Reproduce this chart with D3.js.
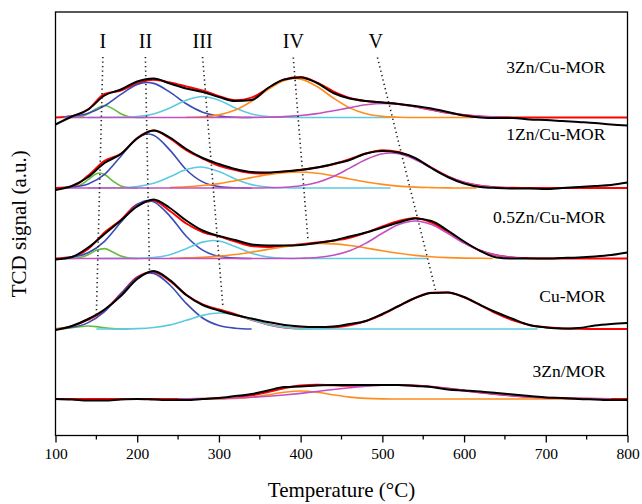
<!DOCTYPE html>
<html>
<head>
<meta charset="utf-8">
<script src="https://cdn.jsdelivr.net/npm/d3@7"></script>
<style>
  body { margin: 0; background: #fff; }
  text { font-family: "Liberation Serif", "Times New Roman", serif; fill: #000; }
</style>
</head>
<body>
<svg id="chart" width="642" height="504"></svg>
<script>
width = 642;
height = 504;

margin = {
    top: 12,
    right: 14.5,
    bottom: 68.5,
    left: 55.5
};

//////// Data ////////
// temperature grid of the measured / fitted profiles (°C)
const temps = [100,120,140,160,180,200,220,240,260,280,300,320,340,360,380,400,420,440,
               460,480,500,520,540,560,580,600,620,640,660,680,700,720,740,760,780,800];

// bottom to top
const sampleNames = ["3Zn/MOR", "Cu-MOR", "0.5Zn/Cu-MOR", "1Zn/Cu-MOR", "3Zn/Cu-MOR"];
const sampleOffsets = [36.5, 106.5, 177, 247.5, 318];
const sampleLabelLevels = [58.5, 133.5, 212.5, 295.5, 362.5];

// measured TCD signal (black) above each baseline
const signal3ZnMOR = [0,-0.5,-1.5,-1.5,-0.5,0,-0.5,-1,-1,0,1,3,5,8.5,12,12.5,13.5,14,14,14,
                      14,14,13,12,9.5,8.5,7.5,6,4.5,3,1.5,1,0,-0.5,-1,-1];
const signalCuMOR = [-1,3,10,19.5,33,50,58,49,34,24,18.5,14,10.5,7,4,2.5,2,2.5,5,8,
                     15,23,31,36,36.5,32,24,16.5,10,4,1.5,0.5,1,3.5,5,6];
const signal05ZnCuMOR = [-1,1.5,11,24.5,38,52,59,50.5,38,28,22.5,18.5,14,13,13,13.5,15.5,18,22,26,
                         31,36,40,37.5,28,17,7.5,1,0,0,0,0.5,1,2,3.5,6];
const signal1ZnCuMOR = [-2,2,11,25,34,49.5,57.5,50.5,39,30,24,19,16,15.5,16.5,18,20.5,24,28,34.5,
                        37,35.5,30,20,11,4.5,1,0,-0.5,-0.5,-1,0,1,2,3,5.5];
const signal3ZnCuMOR = [-7,1,8,22,28,36,39,34,29,25.5,20.5,16.5,17.5,29.5,38,40,34.5,24.5,19,16.5,
                        15,13.5,11.5,9,5.5,2,0,-0.5,-0.5,-2,-2.5,-3.5,-4.5,-5.5,-7,-8];

// cumulative fit (red)
const fit3ZnMOR = [0,0,0,0,0,0,0,0,0.1,0.3,0.7,1.6,3.6,6.9,10.8,13.6,14.3,13.7,13.2,13.5,
                   13.9,14,13.4,12.2,10.5,8.5,6.5,4.8,3.3,2.1,1.3,0.8,0.4,0.2,0.1,0];
const fitCuMOR = [0,2.9,9.4,18.6,35.2,51.8,57,48.1,34.3,24.6,19.5,14.8,9.2,4.5,1.6,0.6,0.7,1.5,3.8,8,
                  14.5,22.9,31,36.2,36.5,31.6,23.8,15.3,8.6,4.1,1.7,0.6,0.2,0,0,0];
const fit05ZnCuMOR = [0,1.5,9.5,26,38.6,54,57.7,47.5,35,26.5,22.1,17,12.5,11.5,12.5,14.2,16,17.8,20.7,25.9,
                      32,37.5,40.6,36,26.5,16,7.9,3.2,1,0.3,0,0,0,0,0,0];
const fit1ZnCuMOR = [0,1.3,12.4,27.1,34.1,50,57.4,49.6,37.9,29.5,22.2,18,15,14.5,16.4,18.3,20.4,23.7,28.9,34.5,
                     37.8,36.1,29.4,20.3,11.6,5.6,2.3,0.8,0.2,0,0,0,0,0,0,0];
const fit3ZnCuMOR = [0,1.2,8.2,23.6,27,34,37.7,35,31.1,27,21.4,17.3,19.9,29,38,40.4,34.9,26.2,19.5,16.4,
                     15.1,13.6,10.9,7.7,4.7,2.5,1.1,0.4,0.1,0,0,0,0,0,0,0];

// deconvoluted peaks, [temperature, signal]
const peaks3ZnMOR_IV = [[270,0],[300,0.1],[320,0.6],[340,1.9],[360,4.2],[380,6.8],[400,8],[420,6.8],[440,4.2],
                        [460,1.9],[480,0.6],[500,0.1],[520,0],[740,0]];
const peaks3ZnMOR_V = [[250,0],[260,0.2],[280,0.3],[300,0.6],[320,1],[340,1.7],[360,2.7],[380,4],[400,5.6],
                       [420,7.5],[440,9.5],[460,11.3],[480,12.9],[500,13.8],[520,14],[540,13.4],[560,12.2],
                       [580,10.5],[600,8.5],[620,6.5],[640,4.8],[660,3.3],[680,2.1],[700,1.3],[720,0.8],
                       [740,0.4],[760,0.2],[780,0]];

const peaksCuMOR_I = [[100,0],[110,0.4],[120,1.2],[130,2.4],[140,3],[150,2.4],[160,1.2],[170,0.4],[180,0.1],[190,0]];
const peaksCuMOR_II = [[110,0.8],[120,1.7],[140,6.4],[160,17.4],[180,35],[200,51.4],[215,56],[220,55.6],
                       [240,44],[260,25.6],[280,11],[300,3.5],[320,0.8],[340,0]];
const peaksCuMOR_III = [[150,0],[180,0.1],[200,0.4],[220,1.5],[240,4.1],[260,8.7],[280,13.6],[301,16],
                        [320,14],[340,9.2],[360,4.5],[380,1.6],[400,0.4],[420,0.1],[440,0],[690,0]];

const peaks05_I = [[110,0],[120,0.1],[130,1],[140,3.8],[150,8.3],[160,9.9],[170,6.5],[180,2.4],[190,0.5],[200,0]];
const peaks05_II = [[110,0.6],[120,1.4],[140,5.7],[160,17.2],[180,36.2],[200,53.9],[213,58],[220,56.8],
                    [240,42.4],[260,22.3],[280,8.4],[300,2.2],[320,0.4],[340,0]];
const peaks05_III = [[150,0],[200,0.1],[220,0.9],[240,3.8],[260,9.8],[280,16.4],[293,18],[300,17.5],
                     [320,12],[340,5.3],[360,1.5],[380,0.3],[400,0],[555,0]];
const peaks05_IV = [[240,0.2],[260,0.6],[280,1.2],[300,2.4],[320,4],[340,6.4],[360,9.1],[380,11.8],[400,13.9],
                    [425,15],[440,14.6],[460,13],[480,10.5],[500,7.7],[520,5.2],[540,3.1],[560,1.7],[580,0.9],
                    [600,0.4],[620,0.2],[635,0]];
const peaks05_V = [[110,0],[380,0],[400,0.3],[420,1],[440,3.2],[460,7.7],[480,15.4],[500,25.2],[520,33.9],
                   [540,37.5],[560,33.9],[580,25.2],[600,15.4],[620,7.7],[640,3.2],[660,1],[670,0.5]];

const peaks1_I = [[110,0],[120,0.5],[130,2.7],[140,8.4],[150,14.3],[154,15],[160,13.5],[170,7.1],[180,2],[190,0.3],[200,0]];
const peaks1_II = [[110,0.3],[120,0.8],[140,4],[160,13.6],[180,31.8],[200,49.7],[213,54],[220,52.7],
                   [240,37.9],[260,18.3],[280,6.1],[300,1.35],[320,0.2],[340,0]];
const peaks1_III = [[140,0],[180,0.3],[200,1.4],[220,4.7],[240,11.2],[260,18.4],[277,21],[300,16.4],
                    [320,9],[340,3.4],[360,0.9],[380,0.2],[400,0],[510,0]];
const peaks1_IV = [[240,0.5],[260,1.2],[280,2.5],[300,4.4],[320,7.2],[340,10.4],[360,13.4],[380,15.4],[396,16],
                   [420,14.8],[440,12.2],[460,9],[480,6],[500,3.6],[520,1.9],[540,0.9],[560,0.4],[580,0.1],
                   [600,0],[615,0]];
const peaks1_V = [[110,0],[340,0],[360,0.2],[380,0.8],[400,2.3],[420,5.6],[440,11.5],[460,19.9],[480,28.5],
                  [500,34.2],[510,35],[520,34.2],[540,28.5],[560,19.9],[580,11.5],[600,5.6],[620,2.3],
                  [640,0.8],[655,0.3]];

const peaks3_I = [[110,0],[120,0.1],[130,0.8],[140,3.7],[150,8.9],[160,12],[170,8.9],[180,3.7],[190,0.8],[200,0.1],[210,0]];
const peaks3_II = [[110,0.5],[120,1.1],[140,4.2],[160,11.6],[180,23.1],[200,33],[212,35],[220,34.1],
                   [240,25.4],[260,13.7],[280,5.3],[300,1.5],[320,0.3],[340,0]];
const peaks3_III = [[140,0],[180,0.2],[200,0.9],[220,3.6],[240,9.6],[260,17.3],[280,21],[300,17.3],
                    [320,9.6],[340,3.6],[360,0.9],[380,0.2],[400,0],[510,0]];
const peaks3_IV = [[260,0.2],[280,0.7],[300,2.6],[320,7.4],[340,16.2],[360,27.8],[380,37],[393,39],[400,38.4],
                   [420,31],[440,19.5],[460,9.6],[480,3.7],[500,1.1],[520,0.3],[540,0],[612,0]];
const peaks3_V = [[110,0],[300,0],[340,0.1],[360,0.3],[380,0.85],[400,2],[420,3.9],[440,6.7],[460,9.9],
                  [480,12.7],[500,14],[520,13.3],[540,10.9],[560,7.7],[580,4.7],[600,2.5],[620,1.1],
                  [640,0.4],[650,0.2]];

// peak guides (dotted) and their roman labels
const bandNames = ["I", "II", "III", "IV", "V"];
const bandColors = ["#68bb3e", "#3a4cb6", "#5ecae2", "#ff8c1c", "#c250c0"];
const bandLabelTemps = [158, 210, 280, 391, 492];
const bandLabelLevel = 387.5;
const guideTop = [[158,378.5],[210,378.5],[280,378.5],[391,378],[494,378]];
const guideBottom = [[150,120.5],[215,165.5],[305,127.5],[409,195.5],[565,145.5]];

const xTicks = [100,200,300,400,500,600,700,800];
const xMinorTicks = [150,250,350,450,550,650,750];

// table used for drawing
const signals = [signal3ZnMOR, signalCuMOR, signal05ZnCuMOR, signal1ZnCuMOR, signal3ZnCuMOR];
const fits = [fit3ZnMOR, fitCuMOR, fit05ZnCuMOR, fit1ZnCuMOR, fit3ZnCuMOR];
const peakSets = [
    [["IV", peaks3ZnMOR_IV], ["V", peaks3ZnMOR_V]],
    [["I", peaksCuMOR_I], ["II", peaksCuMOR_II], ["III", peaksCuMOR_III]],
    [["I", peaks05_I], ["II", peaks05_II], ["III", peaks05_III], ["IV", peaks05_IV], ["V", peaks05_V]],
    [["I", peaks1_I], ["II", peaks1_II], ["III", peaks1_III], ["IV", peaks1_IV], ["V", peaks1_V]],
    [["I", peaks3_I], ["II", peaks3_II], ["III", peaks3_III], ["IV", peaks3_IV], ["V", peaks3_V]]
];
const profiles = sampleNames.map((name, i) => ({
    name: name,
    offset: sampleOffsets[i],
    labelLevel: sampleLabelLevels[i],
    signal: temps.map((t, j) => [t, signals[i][j]]),
    fit: temps.map((t, j) => [t, fits[i][j]]),
    peaks: peakSets[i]
}));

//////// Scales ////////
const xScale = d3.scaleLinear()
    .domain([100, 800])
    .range([margin.left, width - margin.right]);

const yScale = d3.scaleLinear()
    .domain([0, height - margin.bottom - margin.top])
    .range([height - margin.bottom, margin.top]);

const colorScale = d3.scaleOrdinal()
    .domain(bandNames)
    .range(bandColors);

const svg = d3.select("#chart");

//////// Curves ////////
profiles.forEach(p => {
    const line = d3.line()
        .x(d => xScale(d[0]))
        .y(d => yScale(p.offset + d[1]))
        .curve(d3.curveMonotoneX);

    const g = svg.append("g").attr("class", "profile");

    g.append("path")
        .attr("d", line(p.fit))
        .attr("fill", "none")
        .attr("stroke", "#ff0000")
        .attr("stroke-width", 2);

    p.peaks.forEach(([band, pts]) => {
        g.append("path")
            .attr("d", line(pts))
            .attr("fill", "none")
            .attr("stroke", colorScale(band))
            .attr("stroke-width", 1.6);
    });

    g.append("path")
        .attr("d", line(p.signal))
        .attr("fill", "none")
        .attr("stroke", "#000")
        .attr("stroke-width", 2);

    g.append("text")
        .attr("x", xScale(773))
        .attr("y", yScale(p.labelLevel))
        .attr("text-anchor", "end")
        .style("font-size", "17.5px")
        .text(p.name);
});

//////// Peak guides ////////
bandNames.forEach((b, i) => {
    svg.append("line")
        .attr("x1", xScale(guideTop[i][0]))
        .attr("y1", yScale(guideTop[i][1]))
        .attr("x2", xScale(guideBottom[i][0]))
        .attr("y2", yScale(guideBottom[i][1]))
        .attr("stroke", "#222")
        .attr("stroke-width", 1.6)
        .attr("stroke-dasharray", "1.3,3.2");

    svg.append("text")
        .attr("x", xScale(bandLabelTemps[i]))
        .attr("y", yScale(bandLabelLevel))
        .attr("text-anchor", "middle")
        .style("font-size", "20px")
        .text(b);
});

//////// Axes & frame ////////
const xAxis = d3.axisBottom(xScale)
    .tickValues(xTicks)
    .tickSize(7)
    .tickSizeOuter(0)
    .tickPadding(5)
    .tickFormat(d3.format("d"));

const axis = svg.append("g")
    .attr("transform", `translate(0,${height - margin.bottom})`)
    .call(xAxis);
axis.select(".domain").remove();
axis.selectAll("line").attr("stroke", "#000").attr("stroke-width", 1.3);
axis.selectAll("text")
    .style("font-size", "15.5px")
    .style("font-family", "'Liberation Serif', serif");

svg.append("g")
    .attr("transform", `translate(0,${height - margin.bottom})`)
    .selectAll("line")
    .data(xMinorTicks)
    .join("line")
    .attr("x1", d => xScale(d))
    .attr("x2", d => xScale(d))
    .attr("y1", 0)
    .attr("y2", 4)
    .attr("stroke", "#000")
    .attr("stroke-width", 1.3);

svg.append("rect")
    .attr("x", margin.left)
    .attr("y", margin.top)
    .attr("width", width - margin.left - margin.right)
    .attr("height", height - margin.top - margin.bottom)
    .attr("fill", "none")
    .attr("stroke", "#000")
    .attr("stroke-width", 1.3);

svg.append("text")
    .attr("x", (margin.left + width - margin.right) / 2)
    .attr("y", 497)
    .attr("text-anchor", "middle")
    .style("font-size", "21px")
    .text("Temperature (°C)");

svg.append("text")
    .attr("transform", `translate(26,${(margin.top + height - margin.bottom) / 2}) rotate(-90)`)
    .attr("text-anchor", "middle")
    .style("font-size", "21px")
    .text("TCD signal (a.u.)");
</script>
</body>
</html>
